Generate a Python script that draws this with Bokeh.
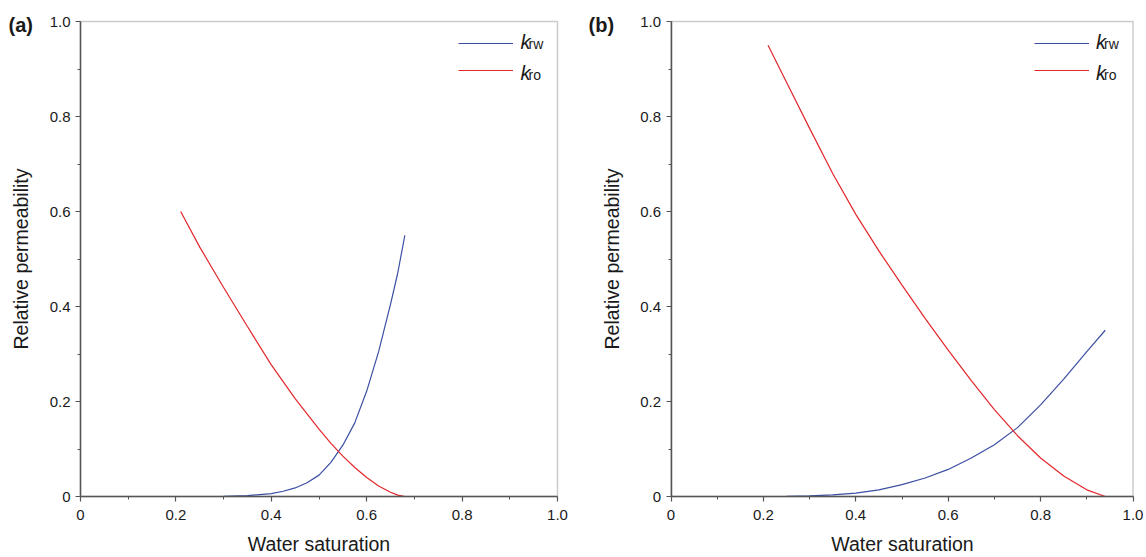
from bokeh.plotting import figure
from bokeh.layouts import row
from bokeh.models import (Range1d, FixedTicker, Legend, LegendItem, Label,
                          BoxAnnotation)
from bokeh.embed import file_html
from bokeh.resources import INLINE

# ---- data ----
sw_a_krw = [0.21, 0.25, 0.30, 0.35, 0.40, 0.425, 0.45, 0.475, 0.50, 0.525, 0.55, 0.575,
            0.60, 0.625, 0.65, 0.665, 0.68]
krw_a = [0.0, 0.0, 0.0005, 0.002, 0.006, 0.011, 0.018, 0.029, 0.045, 0.072, 0.108, 0.155,
         0.222, 0.305, 0.405, 0.47, 0.55]
sw_a_kro = [0.21, 0.25, 0.30, 0.35, 0.40, 0.45, 0.50, 0.525, 0.55, 0.575, 0.60, 0.625,
            0.65, 0.665, 0.68]
kro_a = [0.60, 0.525, 0.44, 0.358, 0.277, 0.206, 0.142, 0.112, 0.085, 0.061, 0.040, 0.022,
         0.009, 0.003, 0.0]

sw_b = [0.21, 0.25, 0.30, 0.35, 0.40, 0.45, 0.50, 0.55, 0.60, 0.65, 0.70, 0.75, 0.80,
        0.85, 0.90, 0.94]
krw_b = [0.0, 0.0005, 0.0015, 0.0035, 0.007, 0.014, 0.025, 0.039, 0.057, 0.081, 0.109,
         0.145, 0.193, 0.247, 0.305, 0.35]
kro_b = [0.95, 0.872, 0.775, 0.680, 0.594, 0.517, 0.445, 0.375, 0.308, 0.244, 0.183,
         0.128, 0.081, 0.043, 0.014, 0.0]

tick_values = [0.0, 0.2, 0.4, 0.6, 0.8, 1.0]
tick_labels = ["0", "0.2", "0.4", "0.6", "0.8", "1.0"]
minor_values = [0.1, 0.3, 0.5, 0.7, 0.9]
panel_labels = ["(a)", "(b)"]
x_title = "Water saturation"
y_title = "Relative permeability"

FONT = "Liberation Sans"
BLUE = "#3a4ea3"
RED = "#e3262b"
AX = "#555555"
TXT = "#1a1a1a"

HEIGHT = 557
TOP_PAD = 10          # frame top (px), a little above the plot box
BOX_TOP = 21          # plot box top (value 1.0)
BOX_BOTTOM = 496      # plot box bottom (value 0)


def make_panel(tag, tag_left, xs_w, ys_w, xs_o, ys_o, width, fig_left, box_left, box_right,
               frame_left_pad):
    scale_x = box_right - box_left
    scale_y = BOX_BOTTOM - BOX_TOP
    frame_left = fig_left + frame_left_pad
    frame_right = fig_left + width
    x0 = -(box_left - frame_left) / scale_x
    x1 = (frame_right - box_left) / scale_x
    y0 = -(HEIGHT - BOX_BOTTOM) / scale_y
    y1 = (BOX_BOTTOM - TOP_PAD) / scale_y

    p = figure(width=width, height=HEIGHT, output_backend="svg", toolbar_location=None,
               x_range=Range1d(x0, x1), y_range=Range1d(y0, y1),
               min_border_left=frame_left_pad, min_border_right=0,
               min_border_top=TOP_PAD, min_border_bottom=0)
    p.grid.visible = False
    p.outline_line_color = None
    p.background_fill_color = "white"
    p.border_fill_color = "white"

    # plot box (top and right sides visible)
    p.add_layout(BoxAnnotation(left=0, right=1, bottom=0, top=1, fill_alpha=0,
                               fill_color=None, line_color=AX, line_width=1.5,
                               level="underlay"))

    for ax in (p.xaxis[0], p.yaxis[0]):
        ax.ticker = FixedTicker(ticks=tick_values, minor_ticks=minor_values)
        ax.major_label_overrides = {v: s for v, s in zip(tick_values, tick_labels)}
        ax.bounds = (0, 1)
        ax.fixed_location = 0
        ax.axis_line_color = AX
        ax.axis_line_width = 1.5
        ax.major_tick_line_color = AX
        ax.major_tick_line_width = 1.2
        ax.minor_tick_line_color = AX
        ax.minor_tick_line_width = 1.0
        ax.major_tick_out = 5
        ax.major_tick_in = 0
        ax.minor_tick_out = 3
        ax.minor_tick_in = 0
        ax.major_label_text_font = FONT
        ax.major_label_text_font_size = "15px"
        ax.major_label_text_color = TXT
        ax.axis_label_text_font = FONT
        ax.axis_label_text_font_size = "19.5px"
        ax.axis_label_text_font_style = "normal"
        ax.axis_label_text_color = TXT
    p.xaxis.axis_label = x_title
    p.yaxis.axis_label = y_title
    p.xaxis.major_label_standoff = 8
    p.xaxis.axis_label_standoff = 10
    p.yaxis.major_label_standoff = 5
    p.yaxis.axis_label_standoff = 15

    rw = p.line(xs_w, ys_w, line_color=BLUE, line_width=1.2)
    ro = p.line(xs_o, ys_o, line_color=RED, line_width=1.2)

    # legend sample lines end 44 px left of the box's right side
    margin = 21
    glyph_end = box_right - 44
    label_w = (frame_right - margin) - 4 - glyph_end
    leg = Legend(items=[LegendItem(label=" ", renderers=[rw]),
                        LegendItem(label=" ", renderers=[ro])],
                 location="top_right", margin=margin, padding=0,
                 glyph_width=55, glyph_height=24, label_height=24, label_width=int(label_w),
                 label_standoff=4, spacing=3,
                 border_line_color=None, background_fill_alpha=0,
                 label_text_font_size="12px")
    p.add_layout(leg)

    # legend texts: italic k with subscript (baselines at 48 px and 79 px)
    k_x = (box_right - 37 - box_left) / scale_x
    sub_x = (box_right - 29 - box_left) / scale_x
    for base, sub in ((48.3, "rw"), (79.0, "ro")):
        p.add_layout(Label(x=k_x, y=(BOX_BOTTOM - (base - 6.9)) / scale_y, text="k",
                           text_font=FONT, text_font_size="20px", text_font_style="italic",
                           text_baseline="middle", text_align="left", text_color=TXT))
        p.add_layout(Label(x=sub_x, y=(BOX_BOTTOM - (base - 4.85)) / scale_y, text=sub,
                           text_font=FONT, text_font_size="14px",
                           text_baseline="middle", text_align="left", text_color=TXT))

    p.add_layout(Label(x=(tag_left - box_left) / scale_x, y=(BOX_BOTTOM - 24) / scale_y,
                       text=tag, text_font=FONT, text_font_size="20px",
                       text_font_style="bold", text_baseline="middle", text_align="left",
                       text_color=TXT))
    return p


pa = make_panel(panel_labels[0], 8, sw_a_krw, krw_a, sw_a_kro, kro_a,
                width=585, fig_left=0, box_left=80, box_right=557, frame_left_pad=4)
pb = make_panel(panel_labels[1], 588, sw_b, krw_b, sw_b, kro_b,
                width=561, fig_left=585, box_left=670.5, box_right=1132.5, frame_left_pad=1)

layout = row(pa, pb)
open("out.html", "w").write(file_html(layout, INLINE))
